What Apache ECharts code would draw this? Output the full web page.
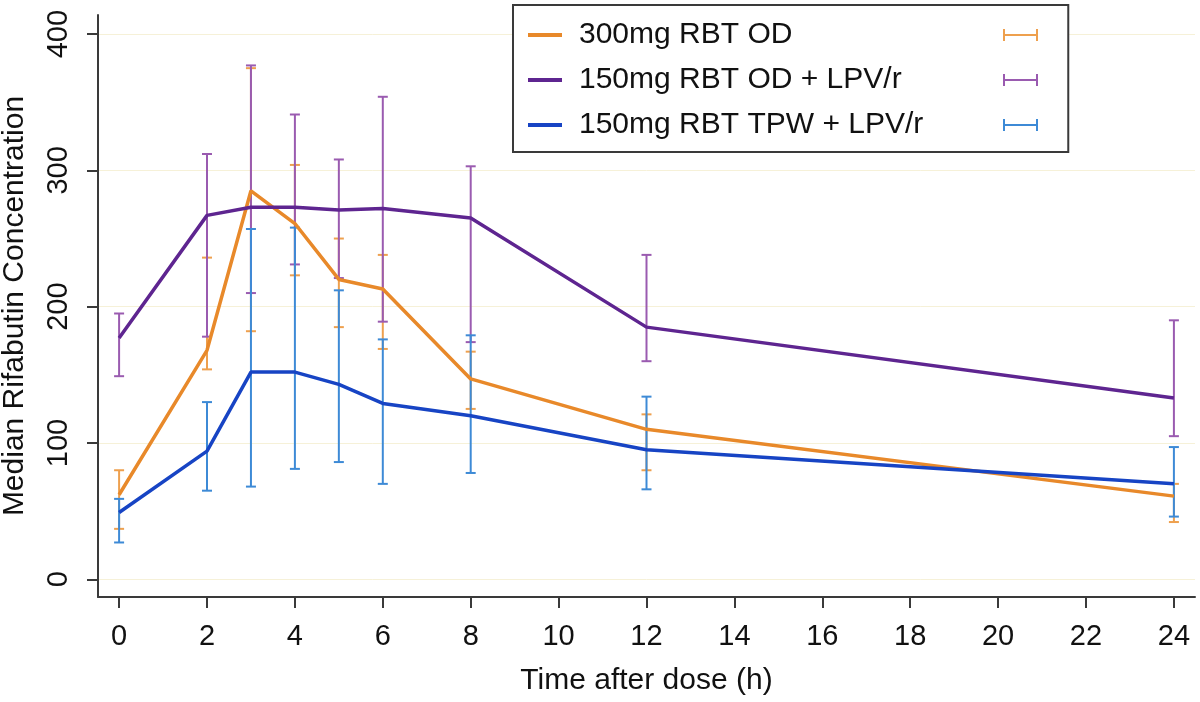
<!DOCTYPE html>
<html>
<head>
<meta charset="utf-8">
<script src="https://cdn.jsdelivr.net/npm/echarts@6/dist/echarts.min.js"></script>
<style>
  html, body { margin: 0; padding: 0; background: #fff; }
  #main { width: 1200px; height: 702px; }
</style>
</head>
<body>
<div id="main"></div>
<script>
// hours after dose
var hours = [0, 2, 3, 4, 5, 6, 8, 12, 24];

// 300mg RBT OD
var odMedian = [62, 168, 285, 261, 220, 213, 147, 110, 61];
var odLow    = [37, 154, 182, 223, 185, 169, 125, 80, 42];
var odHigh   = [80, 236, 375, 304, 250, 238, 167, 121, 70];

// 150mg RBT OD + LPV/r
var odLpvMedian = [177, 267, 273, 273, 271, 272, 265, 185, 133];
var odLpvLow    = [149, 178, 210, 231, 221, 189, 174, 160, 105];
var odLpvHigh   = [195, 312, 377, 341, 308, 354, 303, 238, 190];

// 150mg RBT TPW + LPV/r
var tpwMedian = [49, 94, 152, 152, 143, 129, 120, 95, 70];
var tpwLow    = [27, 65, 68, 81, 86, 70, 78, 66, 46];
var tpwHigh   = [59, 130, 257, 258, 212, 176, 179, 134, 97];

var yTicks = [0, 100, 200, 300, 400];
var xTicks = [0, 2, 4, 6, 8, 10, 12, 14, 16, 18, 20, 22, 24];

var names = ['300mg RBT OD', '150mg RBT OD + LPV/r', '150mg RBT TPW + LPV/r'];
var lineColors = ['#e8892a', '#5e2590', '#1744c4'];
var barColors = ['#eea04e', '#9a5bb0', '#3d8ad6'];

var FONT = 'Liberation Sans, Arial, sans-serif';

function pairs(xs, ys) {
  return xs.map(function (x, i) { return [x, ys[i]]; });
}
function ranges(xs, lo, hi) {
  return xs.map(function (x, i) { return [x, lo[i], hi[i]]; });
}

// draws vertical bar with caps
function renderCap(params, api) {
  var x = api.value(0);
  var top = api.coord([x, api.value(2)]);
  var bot = api.coord([x, api.value(1)]);
  var hw = 5;
  var st = { stroke: api.visual('color'), lineWidth: 2 };
  return {
    type: 'group',
    children: [
      { type: 'line', shape: { x1: top[0], y1: top[1], x2: bot[0], y2: bot[1] }, style: st },
      { type: 'line', shape: { x1: top[0] - hw, y1: top[1], x2: top[0] + hw, y2: top[1] }, style: st },
      { type: 'line', shape: { x1: bot[0] - hw, y1: bot[1], x2: bot[0] + hw, y2: bot[1] }, style: st }
    ]
  };
}

var medians = [odMedian, odLpvMedian, tpwMedian];
var lows = [odLow, odLpvLow, tpwLow];
var highs = [odHigh, odLpvHigh, tpwHigh];

var series = [];
for (var i = 0; i < 3; i++) {
  series.push({
    name: names[i] + ' CI',
    type: 'custom',
    renderItem: renderCap,
    itemStyle: { color: barColors[i] },
    encode: { x: 0, y: [1, 2] },
    data: ranges(hours, lows[i], highs[i]),
    z: 2
  });
}
for (var j = 0; j < 3; j++) {
  series.push({
    name: names[j],
    type: 'line',
    symbol: 'none',
    lineStyle: { color: lineColors[j], width: 3.5 },
    itemStyle: { color: lineColors[j] },
    data: pairs(hours, medians[j]),
    z: 3
  });
}

var chart = echarts.init(document.getElementById('main'));
chart.setOption({
  animation: false,
  backgroundColor: '#fff',
  grid: { left: 98, right: 5, top: 15, bottom: 105, outerBoundsMode: 'none', containLabel: false },
  legend: [{
    data: names,
    orient: 'vertical',
    left: 513,
    top: 5,
    padding: [15, 145, 12, 15],
    itemGap: 15,
    itemWidth: 34,
    itemHeight: 4,
    icon: 'rect',
    borderColor: '#3a3a3a',
    borderWidth: 2,
    backgroundColor: '#fff',
    textStyle: { fontSize: 30, fontFamily: FONT, color: '#111', padding: [0, 0, 0, 12] }
  }, {
    data: names.map(function (n) { return n + ' CI'; }),
    orient: 'vertical',
    left: 1003,
    top: 20,
    padding: 0,
    itemGap: 15,
    itemWidth: 35,
    itemHeight: 12,
    icon: 'path://M0,0h2v12h-2z M2,5h31v2h-31z M33,0h2v12h-2z',
    formatter: function () { return ' '; },
    textStyle: { fontSize: 30, fontFamily: FONT }
  }],
  xAxis: {
    type: 'value',
    min: -0.48,
    max: 24.48,
    name: 'Time after dose (h)',
    nameLocation: 'middle',
    nameGap: 69,
    nameTextStyle: { fontSize: 30, fontFamily: FONT, color: '#111' },
    axisLine: { onZero: false, lineStyle: { color: '#3a3a3a', width: 2 } },
    axisTick: { length: 11, lineStyle: { color: '#3a3a3a', width: 2 }, customValues: xTicks },
    axisLabel: { customValues: xTicks, fontSize: 29, fontFamily: FONT, color: '#111', margin: 25 },
    splitLine: { show: false }
  },
  yAxis: {
    type: 'value',
    min: -13,
    max: 414,
    name: 'Median Rifabutin Concentration',
    nameLocation: 'middle',
    nameGap: 68,
    nameTextStyle: { fontSize: 30, fontFamily: FONT, color: '#111' },
    axisLine: { show: true, onZero: false, lineStyle: { color: '#3a3a3a', width: 2 } },
    axisTick: { show: true, length: 11, lineStyle: { color: '#3a3a3a', width: 2 }, customValues: yTicks },
    axisLabel: { customValues: yTicks, rotate: 90, fontSize: 29, fontFamily: FONT, color: '#111', margin: 25 },
    splitLine: { show: true, lineStyle: { color: '#f6f1d8', width: 1 } }
  },
  series: series
});
</script>
</body>
</html>
